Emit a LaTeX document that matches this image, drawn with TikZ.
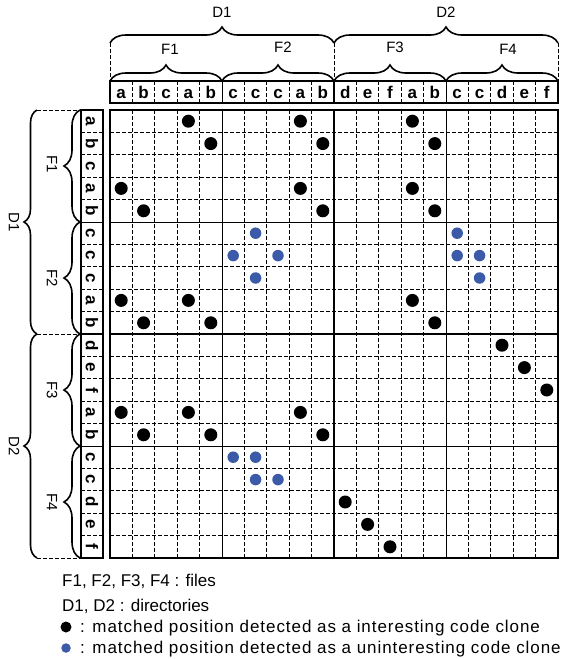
\documentclass[tikz,border=0pt]{standalone}
\usepackage{fontspec}
\setmainfont{Liberation Sans}
\newfontfamily\legwide[LetterSpace=5.5]{Liberation Sans}
\usetikzlibrary{decorations.pathreplacing}
\definecolor{dotblue}{HTML}{3B5BA8}
\tikzset{
  gridd/.style={line width=0.8pt, dash pattern=on 3.5pt off 2.5pt},
  filesep/.style={line width=1pt},
  dirsep/.style={line width=2pt},
  outer/.style={line width=2.2pt},
  brc/.style={decorate, decoration={brace, amplitude=16pt}, line width=1.6pt},
  bbrc/.style={decorate, decoration={brace, amplitude=13pt}, line width=1.6pt},
  guide/.style={line width=0.8pt, dash pattern=on 3.5pt off 2.5pt},
  lett/.style={font=\bfseries\fontsize{17}{17}\selectfont, inner sep=0pt, text height=12.3pt, text depth=0pt},
  lbl/.style={font=\fontsize{15}{15}\selectfont, inner sep=0pt},
  leg/.style={font=\fontsize{17}{17}\selectfont, inner sep=0pt, anchor=base west},
  legw/.style={font=\legwide\fontsize{17}{17}\selectfont, inner sep=0pt, anchor=base west},
  bdot/.style={circle, fill=black, minimum size=13pt, inner sep=0pt},
  udot/.style={circle, fill=dotblue, minimum size=11.5pt, inner sep=0pt},
}
\begin{document}
\begin{tikzpicture}[x=1pt,y=-1pt]
\useasboundingbox (0,0) rectangle (563,659);
\def\cw{22.4}
% main grid
\foreach \i in {1,...,19} {
  \draw[gridd] ({110+\cw*\i},110) -- ({110+\cw*\i},558);
  \draw[gridd] (110,{110+\cw*\i}) -- (558,{110+\cw*\i});
}
\foreach \i in {5,15} {
  \draw[filesep] ({110+\cw*\i},110) -- ({110+\cw*\i},558);
  \draw[filesep] (110,{110+\cw*\i}) -- (558,{110+\cw*\i});
}
\draw[dirsep] (334,110) -- (334,558);
\draw[dirsep] (110,334) -- (558,334);
\draw[outer] (110,110) rectangle (558,558);
% top strip
\foreach \i in {1,...,19} { \draw[gridd] ({110+\cw*\i},81) -- ({110+\cw*\i},103); }
\foreach \i in {5,15} { \draw[filesep] ({110+\cw*\i},81) -- ({110+\cw*\i},103); }
\draw[dirsep] (334,81) -- (334,103);
\draw[outer] (110,81) rectangle (558,103);
% left strip
\foreach \i in {1,...,19} { \draw[gridd] (81,{110+\cw*\i}) -- (103,{110+\cw*\i}); }
\foreach \i in {5,15} { \draw[filesep] (81,{110+\cw*\i}) -- (103,{110+\cw*\i}); }
\draw[dirsep] (81,334) -- (103,334);
\draw[outer] (81,110) rectangle (103,558);
% letters
\foreach \l [count=\i from 0] in {a,b,c,a,b,c,c,c,a,b,d,e,f,a,b,c,c,d,e,f} {
  \node[lett] (col\i) at ({110+\cw*(\i+0.5)},92) {\l};
  \node[lett, rotate=-90] (row\i) at (92,{110+\cw*(\i+0.5)}) {\l};
}
% top braces
\coordinate (t0) at (110,43); \coordinate (t1) at (334,43); \coordinate (t2) at (558,43);
\draw[brc] (t0) -- (t1);
\draw[brc] (t1) -- (t2);
\foreach \a/\b in {110/222,222/334,334/446,446/558} { \draw[brc] (\a,81) -- (\b,81); }
\draw[guide] (t0) -- (110,81);
\draw[guide] (t1) -- (334,81);
\draw[guide] (t2) -- (558,81);
\node[lbl] (D1t) at (222,12) {D1};
\node[lbl] (D2t) at (446,12) {D2};
\node[lbl] (F1t) at (170,49) {F1};
\node[lbl] (F2t) at (283,47) {F2};
\node[lbl] (F3t) at (395,47) {F3};
\node[lbl] (F4t) at (508,49) {F4};
% left braces
\coordinate (l0) at (37,110); \coordinate (l1) at (37,334); \coordinate (l2) at (37,558);
\draw[bbrc] (l1) -- (l0);
\draw[bbrc] (l2) -- (l1);
\foreach \a/\b in {110/222,222/334,334/446,446/558} { \draw[brc] (80,\b) -- (80,\a); }
\draw[guide] (l0) -- (80,110);
\draw[guide] (l1) -- (80,334);
\draw[guide] (l2) -- (80,558);
\node[lbl, rotate=-90] (D1l) at (14,222) {D1};
\node[lbl, rotate=-90] (D2l) at (14,446) {D2};
\node[lbl, rotate=-90] (F1l) at (52,164) {F1};
\node[lbl, rotate=-90] (F2l) at (52,278) {F2};
\node[lbl, rotate=-90] (F3l) at (52,390) {F3};
\node[lbl, rotate=-90] (F4l) at (52,502) {F4};
% dots
\foreach \c/\r [count=\k] in {3/0,8/0,13/0,4/1,9/1,14/1,0/3,8/3,13/3,1/4,9/4,14/4,0/8,3/8,13/8,1/9,4/9,14/9,17/10,18/11,19/12,0/13,3/13,8/13,1/14,4/14,9/14,10/17,11/18,12/19} {
  \node[bdot] (b\k) at ({110+\cw*(\c+0.5)},{110+\cw*(\r+0.5)}) {};
}
\foreach \c/\r [count=\k] in {6/5,15/5,5/6,7/6,15/6,16/6,6/7,16/7,5/15,6/15,6/16,7/16} {
  \node[udot] (u\k) at ({110+\cw*(\c+0.5)},{110+\cw*(\r+0.5)}) {};
}
% legend
\node[leg] (leg1) at (62,586) {F1, F2, F3, F4 : files};
\node[leg] (leg2) at (62,611) {D1, D2 : directories};
\node[bdot, minimum size=11pt] (legb) at (66,627) {};
\node[legw] (leg3) at (80,632) {: matched position detected as a interesting code clone};
\node[udot, minimum size=9.5pt] (legu) at (66,648) {};
\node[legw] (leg4) at (80,653) {: matched position detected as a uninteresting code clone};
\end{tikzpicture}
\end{document}
